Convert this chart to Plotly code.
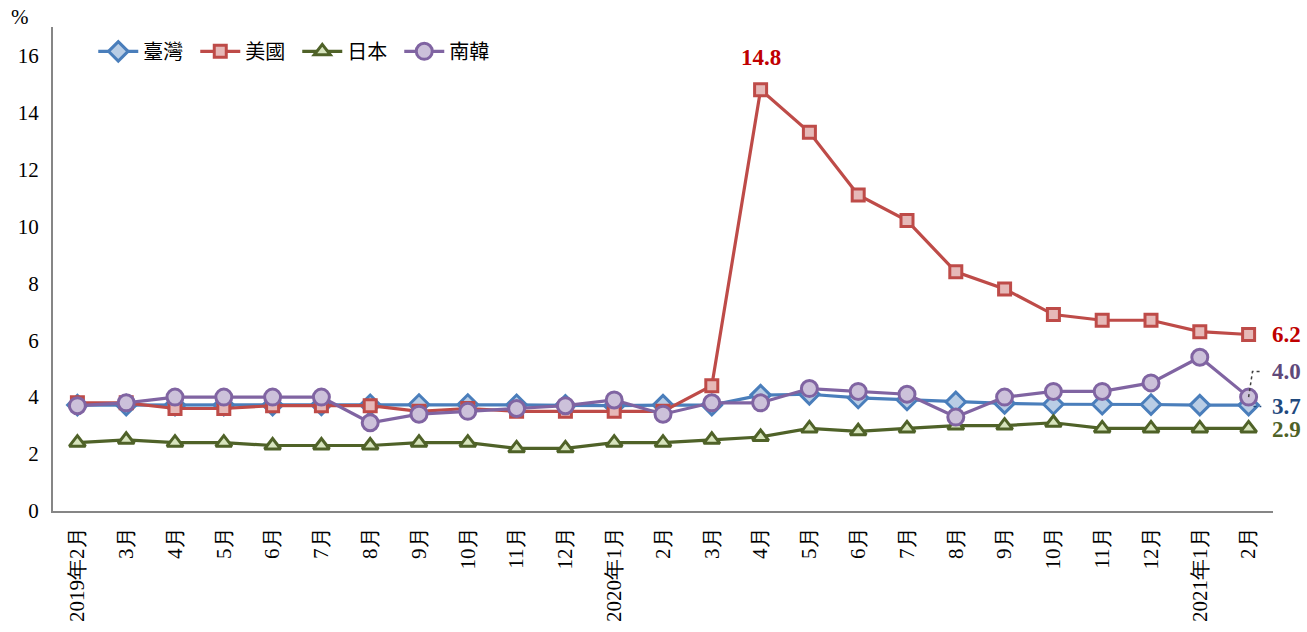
import plotly.graph_objects as go

# 失業率（季調後，%）
months = ["2019年2月", "3月", "4月", "5月", "6月", "7月", "8月", "9月", "10月", "11月", "12月",
          "2020年1月", "2月", "3月", "4月", "5月", "6月", "7月", "8月", "9月", "10月", "11月", "12月",
          "2021年1月", "2月"]
taiwan = [3.72, 3.72, 3.72, 3.72, 3.72, 3.73, 3.73, 3.74, 3.74, 3.73, 3.71,
          3.70, 3.72, 3.72, 4.07, 4.10, 3.97, 3.90, 3.83, 3.78, 3.75, 3.75, 3.74,
          3.72, 3.72]
usa = [3.8, 3.8, 3.6, 3.6, 3.7, 3.7, 3.7, 3.5, 3.6, 3.5, 3.5,
       3.5, 3.5, 4.4, 14.8, 13.3, 11.1, 10.2, 8.4, 7.8, 6.9, 6.7, 6.7,
       6.3, 6.2]
japan = [2.4, 2.5, 2.4, 2.4, 2.3, 2.3, 2.3, 2.4, 2.4, 2.2, 2.2,
         2.4, 2.4, 2.5, 2.6, 2.9, 2.8, 2.9, 3.0, 3.0, 3.1, 2.9, 2.9,
         2.9, 2.9]
korea = [3.7, 3.8, 4.0, 4.0, 4.0, 4.0, 3.1, 3.4, 3.5, 3.6, 3.7,
         3.9, 3.4, 3.8, 3.8, 4.3, 4.2, 4.1, 3.3, 4.0, 4.2, 4.2, 4.5,
         5.4, 4.0]
y_ticks = [0, 2, 4, 6, 8, 10, 12, 14, 16]

SERIF = "Times New Roman, Liberation Serif, serif"
CJK = "Noto Sans CJK TC"

series = [
    ("臺灣", taiwan, "#4A7EBB", "#B9CDE5", "diamond", 15),
    ("美國", usa, "#BE4B48", "#E6B9B8", "square", 12),
    ("日本", japan, "#4F6228", "#D7E4BD", "triangle-up", 14),
    ("南韓", korea, "#8064A2", "#CCC1DA", "circle", 16),
]

# month labels repeat across years, so plot against position index
xpos = list(range(len(months)))

fig = go.Figure()
for name, vals, line_c, fill_c, sym, size in series:
    fig.add_trace(go.Scatter(
        x=xpos, y=vals, name=name, mode="lines+markers",
        line=dict(color=line_c, width=3.2),
        marker=dict(symbol=sym, size=size, color=fill_c,
                    line=dict(color=line_c, width=3)),
    ))

last = len(months) - 1
peak = usa.index(max(usa))


def label(x, y, text, color, xshift=0, yshift=0, xanchor="left"):
    return dict(x=x, y=y, text=f"<b>{text}</b>", showarrow=False,
                xanchor=xanchor, yanchor="middle", xshift=xshift, yshift=yshift,
                font=dict(family=SERIF, size=23, color=color))


annotations = [
    dict(x=0, y=1, xref="paper", yref="paper", text="%", showarrow=False,
         xanchor="center", yanchor="bottom", xshift=-33, yshift=-4,
         font=dict(family=SERIF, size=21, color="#000000")),
    label(peak, usa[peak], f"{usa[peak]:.1f}", "#C00000", yshift=32, xanchor="center"),
    label(last, usa[last], f"{usa[last]:.1f}", "#C00000", xshift=21),
    label(last, korea[last], f"{korea[last]:.1f}", "#5F497A", xshift=21, yshift=26),
    label(last, taiwan[last], f"{taiwan[last]:.1f}", "#1F497D", xshift=21, yshift=-1),
    label(last, japan[last], f"{japan[last]:.1f}", "#4F6228", xshift=21, yshift=-1),
]

# leader lines for the stacked end labels
shapes = [
    dict(type="path", xref="x", yref="y",
         path=f"M {last},{korea[last]} L {last + 0.08},{korea[last] + 0.9} L {last + 0.26},{korea[last] + 0.9}",
         line=dict(color="#404040", width=1.5, dash="dot")),
    dict(type="line", xref="x", yref="y", x0=last + 0.1, x1=last + 0.26,
         y0=taiwan[last] - 0.05, y1=taiwan[last] - 0.05,
         line=dict(color="#1F497D", width=1.5, dash="dot")),
]

fig.update_layout(
    width=1307, height=632,
    margin=dict(l=53, r=34, t=27, b=121),
    paper_bgcolor="white", plot_bgcolor="white",
    showlegend=True,
    legend=dict(orientation="h", x=0.033, y=0.99, xanchor="left", yanchor="top",
                font=dict(family=CJK, size=20, color="#000000"),
                bgcolor="rgba(0,0,0,0)", entrywidth=47, entrywidthmode="pixels",
                itemwidth=40, tracegroupgap=0),
    annotations=annotations,
    shapes=shapes,
    xaxis=dict(tickmode="array", tickvals=xpos, ticktext=months,
               tickangle=-90, showgrid=False, zeroline=False, automargin=False,
               showline=True, linecolor="#868686", linewidth=2,
               ticks="", ticklabelstandoff=6,
               tickfont=dict(family=SERIF, size=21, color="#000000"),
               range=[-0.5, last + 0.5]),
    yaxis=dict(range=[0, 17], tickvals=y_ticks, showgrid=False, zeroline=False,
               automargin=False,
               showline=True, linecolor="#868686", linewidth=2, ticks="",
               tickfont=dict(family=SERIF, size=21, color="#000000"), ticklabelstandoff=8),
)

fig.write_html("out.html")
